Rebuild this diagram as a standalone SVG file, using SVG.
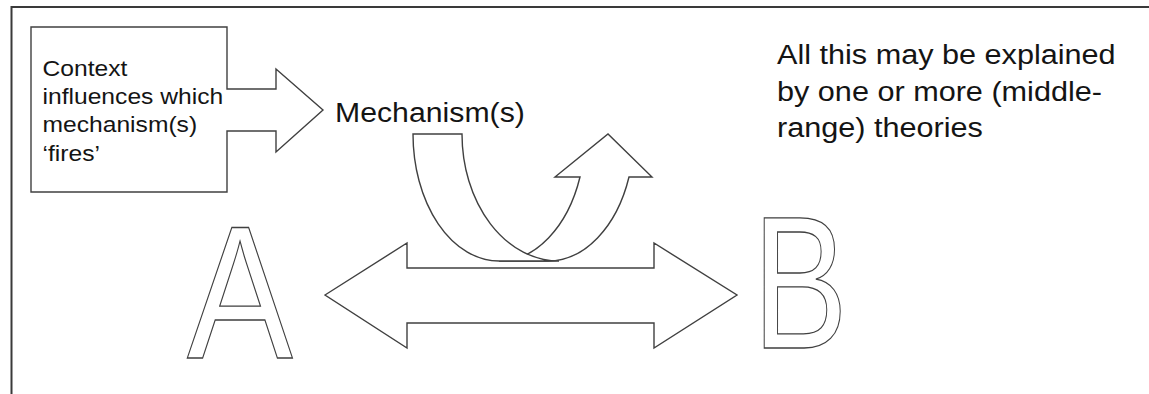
<svg xmlns="http://www.w3.org/2000/svg" width="1149" height="394" viewBox="0 0 1149 394">
  <style>
    .frame { fill: none; stroke: #3a3a3a; stroke-width: 2; }
    .shape { fill: #ffffff; stroke: #404040; stroke-width: 1.4; stroke-linejoin: miter; }
    .txt { font-family: "Liberation Sans", Arial, sans-serif; fill: #141414; }
    .big { font-family: "Liberation Sans", Arial, sans-serif; font-size: 190px; fill: #ffffff; stroke: #404040; stroke-width: 1.3; }
  </style>
  <rect width="1149" height="394" fill="#ffffff"/>
  <g id="frame">
    <path class="frame" d="M11.5,394 V7 H1149"/>
  </g>
  <g id="context">
    <path class="shape" d="M31,27 H227 V89 H276 V69 L323,110 L276,152 V131 H227 V192 H31 Z"/>
    <text class="txt" font-size="22" transform="translate(42.5,76) scale(1.12,1)">
      <tspan x="0" y="0">Context</tspan>
      <tspan x="0" y="28.2">influences which</tspan>
      <tspan x="0" y="56.4">mechanism(s)</tspan>
      <tspan x="0" y="84.6">‘fires’</tspan>
    </text>
  </g>
  <g id="mechanism">
    <text class="txt" font-size="27" transform="translate(335,121.6) scale(1.12,1)">Mechanism(s)</text>
  </g>
  <g id="theory">
    <text class="txt" font-size="28" transform="translate(777,64.3) scale(1.094,1)">
      <tspan x="0" y="0">All this may be explained</tspan>
      <tspan x="0" y="36.4">by one or more (middle-</tspan>
      <tspan x="0" y="72.8">range) theories</tspan>
    </text>
  </g>
  <g id="node-a">
    <text class="big" transform="translate(187,358) scale(0.835,1)">A</text>
  </g>
  <g id="node-b">
    <text class="big" transform="translate(752.6,348) scale(0.752,1)">B</text>
  </g>
  <g id="connectors">
    <path id="double-arrow" class="shape" d="M325,295 L407,243 V268 H654 V243 L737,295 L654,348 V323 H407 V348 Z"/>
    <g id="curved-arrow">
      <path class="shape" d="M499,261 A86,127 0 0 0 580,177 L555,177 L608,134 L652,177 L629,177 A86,127 0 0 1 548,261 Z"/>
      <path class="shape" d="M413,134 L462,134 A97,127 0 0 0 559,261 L499,261 A86,127 0 0 1 413,134 Z"/>
    </g>
  </g>
</svg>
